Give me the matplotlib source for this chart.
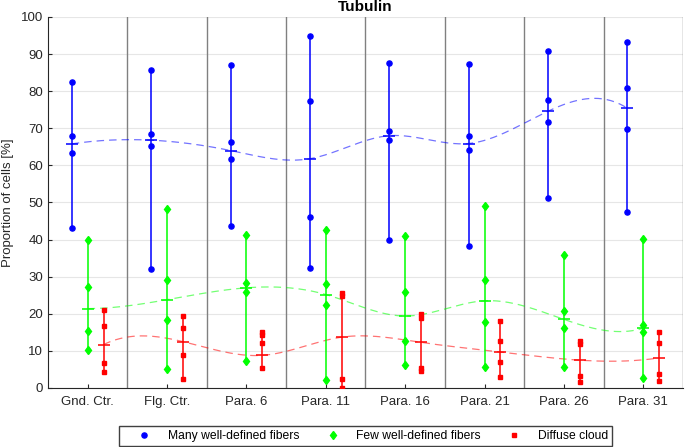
import numpy as np
import matplotlib.pyplot as plt
from matplotlib.lines import Line2D

plt.rcParams['font.family'] = ['Liberation Sans', 'DejaVu Sans']

categories = ['Gnd. Ctr.', 'Flg. Ctr.', 'Para. 6', 'Para. 11', 'Para. 16', 'Para. 21', 'Para. 26', 'Para. 31']

# individual measurements per category
many_pts = [[82.5, 68.0, 63.3, 43.2], [85.6, 68.4, 65.2, 32.2], [87.1, 66.2, 61.7, 43.6],
            [95.0, 77.4, 46.1, 32.4], [87.6, 69.2, 66.8, 39.8], [87.2, 67.8, 64.2, 38.4],
            [90.9, 77.5, 71.7, 51.3], [93.3, 80.9, 69.8, 47.5]]
few_pts = [[39.8, 27.2, 15.4, 10.3], [48.3, 29.0, 18.4, 5.1], [41.2, 28.4, 25.9, 7.4],
           [42.5, 28.1, 22.5, 2.2], [41.1, 26.0, 12.8, 6.3], [49.1, 29.0, 17.9, 5.7],
           [35.8, 20.8, 16.2, 5.6], [40.1, 17.1, 15.1, 2.6]]
diffuse_pts = [[21.1, 16.6, 6.7, 4.4], [19.3, 16.2, 8.9, 2.3], [15.0, 14.3, 12.2, 5.3],
               [25.6, 24.8, 2.3, 0.1], [19.9, 19.0, 5.4, 4.6], [18.0, 12.6, 6.9, 2.9],
               [12.6, 11.8, 3.3, 1.7], [15.1, 12.2, 3.9, 2.0]]

# plotted means
many_mean = [65.8, 66.8, 64.0, 61.8, 68.0, 65.9, 74.6, 75.4]
few_mean = [21.4, 23.8, 27.0, 25.2, 19.4, 23.5, 18.5, 16.1]
diffuse_mean = [11.7, 12.5, 8.8, 13.7, 12.3, 9.7, 7.5, 8.1]


def spline_curve(xk, y, n_fine=400):
    # not-a-knot cubic spline through equally spaced knots
    xk = np.asarray(xk, float)
    y = np.asarray(y, float)
    n = len(y)
    A = np.zeros((n, n))
    r = np.zeros(n)
    A[0, :3] = [1, -2, 1]
    A[-1, -3:] = [1, -2, 1]
    for i in range(1, n - 1):
        A[i, i - 1:i + 2] = [1, 4, 1]
        r[i] = 6 * (y[i + 1] - 2 * y[i] + y[i - 1])
    M = np.linalg.solve(A, r)
    u = np.linspace(0, n - 1, n_fine)
    idx = np.clip(np.floor(u).astype(int), 0, n - 2)
    t = u - idx
    b = (y[idx + 1] - y[idx]) - (2 * M[idx] + M[idx + 1]) / 6
    ys = y[idx] + b * t + M[idx] / 2 * t ** 2 + (M[idx + 1] - M[idx]) / 6 * t ** 3
    xs = xk[0] + u * (xk[1] - xk[0])
    return xs, ys


fig = plt.figure(figsize=(6.85, 4.47), dpi=100)
ax = fig.add_axes([0.070, 0.132, 0.927, 0.830])

x = np.arange(1, len(categories) + 1)

series = [
    (many_pts, many_mean, '#0000FF', 'o', 3.7, -0.2, 'Many well-defined fibers'),
    (few_pts, few_mean, '#00FF00', 'd', 4.4, 0.0, 'Few well-defined fibers'),
    (diffuse_pts, diffuse_mean, '#FF0000', 's', 3.0, 0.2, 'Diffuse cloud'),
]

# category separators
for s in np.arange(1.5, len(categories) + 0.6, 1):
    ax.axvline(s, color='#808080', lw=1.0, zorder=1)

handles = []
for pts, means, col, mk, ms, off, lab in series:
    xs, ys = spline_curve(x + off, means)
    ax.plot(xs, ys, color=col, lw=0.9, ls=(0, (6, 4)), alpha=0.55, zorder=2)
    for xi, p, m in zip(x, pts, means):
        ax.plot([xi + off, xi + off], [min(p), max(p)], color=col, lw=1.1, zorder=3)
        ax.plot([xi + off] * len(p), p, ls='none', marker=mk, ms=ms, color=col, zorder=4)
        ax.plot([xi + off], [m], ls='none', marker='_', ms=8, mew=1.1, color=col, zorder=4)
    handles.append(Line2D([], [], ls='none', marker=mk, ms=ms, color=col, label=lab))

ax.set_xlim(0.5, len(categories) + 0.5)
ax.set_ylim(0, 100)
ax.set_yticks(np.arange(0, 101, 10))
ax.set_xticks(x)
ax.set_xticklabels(categories)
ax.yaxis.grid(True, color='#e6e6e6', lw=0.8)
ax.set_axisbelow(True)
ax.tick_params(direction='in', labelsize=9.5, colors='#262626', length=3)
ax.tick_params(axis='x', pad=6)
for sp in ['top', 'right']:
    ax.spines[sp].set_visible(False)
for sp in ['left', 'bottom']:
    ax.spines[sp].set_color('#262626')
    ax.spines[sp].set_linewidth(0.8)

ax.set_ylabel('Proportion of cells [%]', fontsize=9.5, color='#262626', labelpad=5)
ax.set_title('Tubulin', fontsize=11, fontweight='bold', pad=4)

fig.legend(handles=handles, loc='center', bbox_to_anchor=(0.5336, 0.0246), ncol=3,
           fontsize=8.7, frameon=True, fancybox=False, edgecolor='#404040',
           framealpha=1, handletextpad=0.2, columnspacing=1.0, borderpad=0.35,
           handlelength=3.5)

fig.savefig('out.png', dpi=100)
